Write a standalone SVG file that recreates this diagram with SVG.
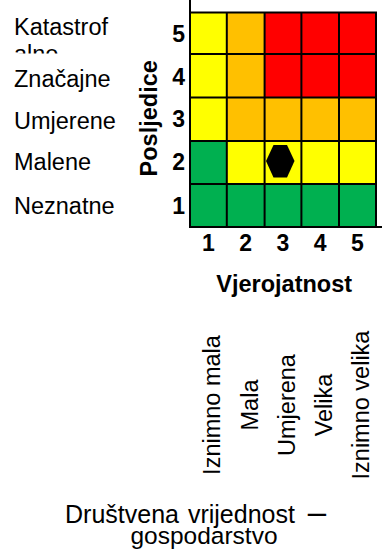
<svg xmlns="http://www.w3.org/2000/svg" width="382" height="558" viewBox="0 0 382 558">
<style>
text{font-family:"Liberation Sans",Arial,sans-serif;fill:#000}
.lbl{font-size:23.5px}
.num{font-size:23px;font-weight:bold}
.ttl{font-size:23.5px;font-weight:bold}
.bot{font-size:25px}
.bot2{font-size:24.5px}
.g{fill:#00B050}.y{fill:#FFFF00}.o{fill:#FFC000}.r{fill:#FF0000}
.grid{stroke:#000;stroke-width:2;fill:none}
</style>
<defs>
<clipPath id="kc"><rect x="0" y="0" width="160" height="53.5"/></clipPath>
</defs>
<g id="cells">
<rect class="y" x="190" y="12.5" width="37" height="41.5"/>
<rect class="o" x="227" y="12.5" width="38" height="41.5"/>
<rect class="r" x="265" y="12.5" width="111" height="41.5"/>
<rect class="y" x="190" y="54" width="37" height="43.5"/>
<rect class="o" x="227" y="54" width="38" height="43.5"/>
<rect class="r" x="265" y="54" width="111" height="43.5"/>
<rect class="y" x="190" y="97.5" width="37" height="43.5"/>
<rect class="o" x="227" y="97.5" width="149" height="43.5"/>
<rect class="g" x="190" y="141" width="37" height="43"/>
<rect class="y" x="227" y="141" width="149" height="43"/>
<rect class="g" x="190" y="184" width="186" height="43"/>
</g>
<g id="gridlines" class="grid">
<path d="M190,0V228M226.8,12.5V227M264.6,12.5V227M301.4,12.5V227M339,12.5V227M376,12.5V227"/>
<path d="M189,12.5H377M190,54H376M190,97.5H376M190,141H376M190,184H376M189,227H382"/>
</g>
<g id="marker">
<polygon points="266,161 273.5,145 287,145 294.5,161 287,177.5 273.5,177.5" fill="#000"/>
</g>
<g id="row-labels">
<g clip-path="url(#kc)"><text class="lbl" x="14" y="35">Katastrof</text><text class="lbl" x="14" y="62">alno</text></g>
<text class="lbl" x="14" y="86.5">Značajne</text>
<text class="lbl" x="14" y="128.5">Umjerene</text>
<text class="lbl" x="14" y="170">Malene</text>
<text class="lbl" x="14" y="214">Neznatne</text>
</g>
<g id="row-numbers">
<text class="num" x="185" y="41.5" text-anchor="end">5</text>
<text class="num" x="185" y="85" text-anchor="end">4</text>
<text class="num" x="185" y="127" text-anchor="end">3</text>
<text class="num" x="185" y="170" text-anchor="end">2</text>
<text class="num" x="185" y="213.5" text-anchor="end">1</text>
</g>
<g id="y-title">
<text class="ttl" transform="translate(156.7,118.3) rotate(-90)" text-anchor="middle">Posljedice</text>
</g>
<g id="col-numbers">
<text class="num" x="208.4" y="250.5" text-anchor="middle">1</text>
<text class="num" x="245.7" y="250.5" text-anchor="middle">2</text>
<text class="num" x="283" y="250.5" text-anchor="middle">3</text>
<text class="num" x="320.2" y="250.5" text-anchor="middle">4</text>
<text class="num" x="357.5" y="250.5" text-anchor="middle">5</text>
</g>
<g id="x-title">
<text class="ttl" x="284.2" y="291.7" text-anchor="middle">Vjerojatnost</text>
</g>
<g id="col-labels">
<text class="lbl" transform="translate(220.3,405) rotate(-90)" text-anchor="middle">Iznimno mala</text>
<text class="lbl" transform="translate(257.6,405) rotate(-90)" text-anchor="middle">Mala</text>
<text class="lbl" transform="translate(294.5,405) rotate(-90)" text-anchor="middle">Umjerena</text>
<text class="lbl" transform="translate(332,405) rotate(-90)" text-anchor="middle">Velika</text>
<text class="lbl" transform="translate(369.4,405) rotate(-90)" text-anchor="middle">Iznimno velika</text>
</g>
<g id="caption">
<text class="bot" x="65" y="522.5" word-spacing="2">Društvena vrijednost <tspan dx="4" font-size="33">–</tspan></text>
<text class="bot2" x="204" y="543.5" text-anchor="middle">gospodarstvo</text>
</g>
</svg>
